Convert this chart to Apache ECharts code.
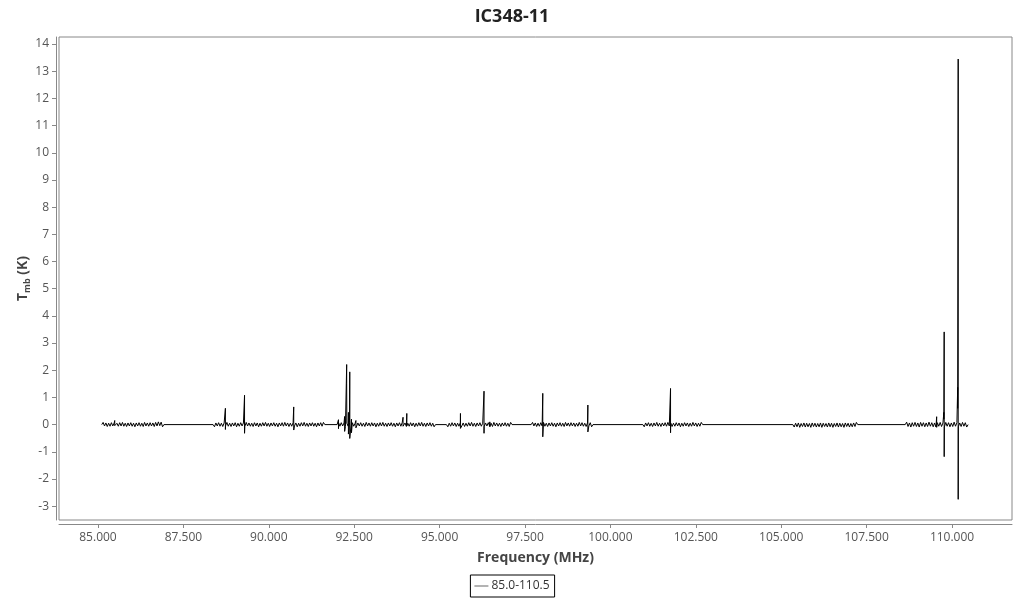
<!DOCTYPE html>
<html>
<head>
<meta charset="utf-8">
<script src="https://cdn.jsdelivr.net/npm/echarts@6/dist/echarts.min.js"></script>
<style>
html,body{margin:0;padding:0;background:#fff;}
#chart{width:1024px;height:600px;}
</style>
</head>
<body>
<div id="chart"></div>
<script>
// ---- data ----
const chartTitle = 'IC348-11';
const seriesName = '85.0-110.5';
const xTicks = [85, 87.5, 90, 92.5, 95, 97.5, 100, 102.5, 105, 107.5, 110];
const yTicks = [-3, -2, -1, 0, 1, 2, 3, 4, 5, 6, 7, 8, 9, 10, 11, 12, 13, 14];

// observed frequency windows (MHz)
const segStart = [85.11, 88.37, 92.00, 95.20, 97.68, 100.95, 105.34, 108.63];
const segEnd   = [86.93, 91.64, 94.88, 97.12, 99.49, 102.70, 107.24, 110.47];

// baseline noise per window (K)
const seg1 = [0.00,0.08,-0.05,0.06,-0.07,0.05,-0.06,0.07,-0.05,0.06,-0.08,0.05,-0.06,0.07,-0.05,0.08,-0.06,0.05,-0.07,0.06,-0.05,0.07,-0.06,0.05,-0.08,0.06,-0.05,0.07,-0.06,0.05,-0.07,0.08,-0.05,0.06,-0.06,0.07,-0.05,0.06,-0.07,0.08,-0.05,0.10,-0.04,0.09,-0.08,0.00];
const seg2 = [0.00,-0.08,0.06,-0.05,0.07,-0.06,0.05,-0.07,0.06,-0.05,0.08,-0.06,0.05,-0.07,0.06,-0.05,0.07,-0.08,0.05,-0.06,0.07,-0.05,0.06,-0.07,0.08,-0.05,0.06,-0.06,0.05,-0.07,0.07,-0.05,0.06,-0.08,0.05,-0.06,0.07,-0.05,0.08,-0.06,0.05,-0.07,0.06,-0.05,0.07,-0.06,0.05,-0.08,0.06,-0.05,0.07,-0.06,0.08,-0.05,0.06,-0.07,0.05,-0.06,0.07,-0.05,0.06,-0.08,0.05,-0.06,0.07,-0.05,0.08,-0.06,0.05,-0.07,0.06,-0.05,0.07,-0.06,0.05,-0.08,0.06,-0.05,0.07,-0.06,0.08,0.00];
const seg3 = [0.00,0.08,-0.06,0.07,-0.05,0.06,-0.07,0.05,-0.06,0.08,-0.05,0.07,-0.06,0.05,-0.08,0.06,-0.05,0.07,-0.06,0.05,-0.07,0.08,-0.05,0.06,-0.06,0.07,-0.05,0.06,-0.08,0.05,-0.06,0.07,-0.05,0.08,-0.06,0.05,-0.07,0.06,-0.05,0.07,-0.06,0.05,-0.08,0.06,-0.05,0.07,-0.06,0.08,-0.05,0.06,-0.07,0.05,-0.06,0.07,-0.05,0.06,-0.08,0.05,-0.06,0.07,-0.05,0.08,-0.06,0.05,-0.07,0.06,-0.05,0.07,-0.06,0.05,-0.08,0.00];
const seg4 = [0.00,-0.08,0.05,-0.06,0.07,-0.05,0.06,-0.07,0.05,-0.06,0.08,-0.05,0.06,-0.07,0.05,-0.06,0.07,-0.05,0.08,-0.06,0.05,-0.07,0.06,-0.05,0.07,-0.06,0.05,-0.08,0.06,-0.05,0.07,-0.06,0.05,-0.07,0.08,-0.05,0.06,-0.06,0.05,-0.07,0.06,-0.05,0.07,-0.06,0.05,-0.07,0.08,0.00];
const seg5 = [0.00,0.08,-0.05,0.06,-0.07,0.05,-0.06,0.07,-0.05,0.08,-0.06,0.05,-0.07,0.06,-0.05,0.07,-0.06,0.05,-0.08,0.06,-0.05,0.07,-0.06,0.05,-0.07,0.08,-0.05,0.06,-0.06,0.07,-0.05,0.06,-0.07,0.05,-0.06,0.08,-0.05,0.07,-0.06,0.05,-0.07,0.06,-0.05,0.07,-0.08,0.00];
const seg6 = [0.00,-0.08,0.06,-0.05,0.07,-0.06,0.05,-0.07,0.06,-0.05,0.08,-0.06,0.05,-0.07,0.06,-0.05,0.07,-0.06,0.08,-0.05,0.06,-0.07,0.05,-0.06,0.07,-0.05,0.06,-0.08,0.05,-0.06,0.07,-0.05,0.06,-0.07,0.05,-0.06,0.08,-0.05,0.06,-0.07,0.05,-0.06,0.08,0.00];
const seg7 = [0.00,-0.09,0.05,-0.08,0.06,-0.10,0.04,-0.07,0.06,-0.09,0.05,-0.08,0.04,-0.10,0.06,-0.07,0.05,-0.09,0.04,-0.08,0.06,-0.10,0.05,-0.07,0.04,-0.09,0.06,-0.08,0.05,-0.10,0.04,-0.07,0.06,-0.09,0.05,-0.08,0.04,-0.10,0.06,-0.07,0.05,-0.09,0.04,-0.08,0.06,-0.07,0.08,0.00];
const seg8 = [0.00,0.09,-0.07,0.06,-0.09,0.07,-0.06,0.08,-0.07,0.06,-0.09,0.08,-0.06,0.07,-0.08,0.06,-0.07,0.09,-0.06,0.07,-0.08,0.06,-0.09,0.07,-0.06,0.08,-0.07,0.06,-0.09,0.08,-0.06,0.07,-0.08,0.06,-0.07,0.09,-0.06,0.07,-0.08,0.06,-0.07,0.08,-0.06,0.07,-0.09,0.00];

// spectral lines: frequency (MHz), peak (K), trough (K)
const lineFreq = [85.49, 88.73, 89.29, 90.73, 92.04, 92.22, 92.28, 92.33, 92.37, 92.42, 92.55, 93.93, 94.04, 95.61, 96.30, 96.47, 98.02, 99.34, 101.76, 109.55, 109.76, 109.77, 110.165, 110.18];
const linePeak = [0.15, 0.60, 1.08, 0.65, 0.18, 0.30, 2.21, 0.45, 1.94, 0.20, 0.15, 0.27, 0.41, 0.41, 1.23, 0.10, 1.15, 0.72, 1.33, 0.29, 0.45, 3.41, 1.37, 13.45];
const lineDip  = [-0.04, -0.18, -0.32, -0.20, -0.15, -0.25, 1.50, -0.35, -0.51, -0.30, -0.12, -0.06, -0.05, -0.14, -0.32, -0.08, -0.45, -0.27, -0.30, -0.10, 0.20, -1.18, 0.60, -2.75];

// ---- build series data ----
const segs = [seg1, seg2, seg3, seg4, seg5, seg6, seg7, seg8];
const data = [];
segs.forEach(function (vals, i) {
  const n = vals.length;
  const step = (segEnd[i] - segStart[i]) / (n - 1);
  vals.forEach(function (v, j) { data.push([segStart[i] + j * step, v]); });
});
lineFreq.forEach(function (f, k) {
  data.push([f, linePeak[k]]);
  data.push([f + 0.0001, lineDip[k]]);
});
data.sort(function (a, b) { return a[0] - b[0]; });

const font = '"Open Sans", "Noto Sans", sans-serif';
const chart = echarts.init(document.getElementById('chart'), null, {renderer: 'canvas'});
chart.setOption({
  animation: false,
  backgroundColor: '#fff',
  title: {
    text: chartTitle, left: 'center', top: 3,
    textStyle: {fontFamily: font, fontWeight: 'bold', fontSize: 18, color: '#222'}
  },
  grid: {left: 59, right: 12, top: 37, bottom: 80, show: true, borderColor: '#888', borderWidth: 1},
  xAxis: {
    type: 'value', min: 83.859, max: 111.755, offset: 4,
    name: 'Frequency (MHz)', nameLocation: 'middle', nameGap: 27,
    nameTextStyle: {fontFamily: font, fontWeight: 'bold', fontSize: 14, color: '#444'},
    axisLine: {show: true, onZero: false, lineStyle: {color: '#888'}},
    axisTick: {show: true, length: 4, customValues: xTicks, lineStyle: {color: '#888'}},
    axisLabel: {customValues: xTicks, margin: 8, fontFamily: font, fontSize: 12, color: '#555',
      formatter: function (v) { return v.toFixed(3); }},
    splitLine: {show: false}
  },
  yAxis: {
    type: 'value', min: -3.51, max: 14.26, offset: 3,
    name: 'T{sub|mb} (K)', nameLocation: 'middle', nameGap: 24, nameRotate: 90, nameMoveOverlap: false,
    nameTextStyle: {fontFamily: font, fontWeight: 'bold', fontSize: 14, color: '#444',
      rich: {sub: {fontFamily: font, fontWeight: 'bold', fontSize: 9, color: '#444', verticalAlign: 'bottom', padding: [8, 0, 0, 0]}}},
    axisLine: {show: true, onZero: false, lineStyle: {color: '#888'}},
    axisTick: {show: true, length: 4, customValues: yTicks, lineStyle: {color: '#888'}},
    axisLabel: {customValues: yTicks, margin: 7, fontFamily: font, fontSize: 12, color: '#555'},
    splitLine: {show: false}
  },
  legend: {
    data: [{name: seriesName, icon: 'rect'}],
    left: 'center', top: 575,
    itemWidth: 14, itemHeight: 1, itemGap: 4,
    itemStyle: {color: '#666'},
    borderColor: '#000', borderWidth: 1, borderRadius: 0, padding: [5, 5, 5, 4],
    textStyle: {fontFamily: font, fontSize: 12, color: '#333', padding: [0, 0, 0, -2]}
  },
  series: [{
    name: seriesName, type: 'line', data: data,
    smooth: false,
    showSymbol: false, symbol: 'none',
    lineStyle: {color: '#000', width: 1, join: 'bevel'},
    itemStyle: {color: '#000'}
  }]
});
</script>
</body>
</html>
